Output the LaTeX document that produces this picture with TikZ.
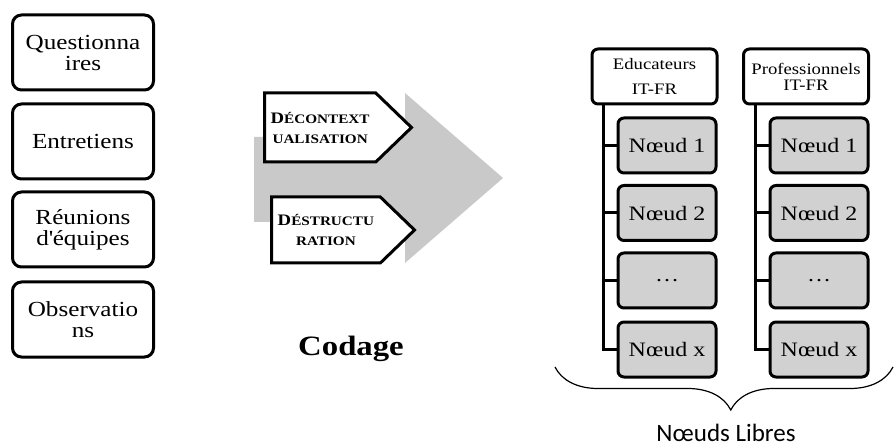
\documentclass[tikz,border=0pt]{standalone}
\usepackage{fontspec}
\setmainfont[FakeStretch=1.17]{Liberation Serif}
\newfontfamily\libresans{Carlito}
\usepackage{tikz}
\usetikzlibrary{shapes.symbols,decorations.pathreplacing}
\definecolor{boxgray}{rgb}{0.82,0.82,0.82}
\definecolor{arrowgray}{rgb}{0.79,0.79,0.79}
\newcommand{\capsline}[2]{{\fontsize{16}{20}\selectfont #1}{\fontsize{13}{20}\selectfont #2}}

\begin{document}
\begin{tikzpicture}[x=1pt,y=-1pt,
    srcbox/.style={draw,line width=3pt,rounded corners=9pt,minimum width=141pt,minimum height=75pt,align=center,font=\fontsize{21.5}{21}\selectfont},
    tagbox/.style={draw,fill=white,line width=3pt,signal,signal to=east,signal pointer angle=88,align=center,font=\bfseries\fontsize{13}{20}\selectfont,anchor=west},
    hdrbox/.style={draw,line width=3pt,rounded corners=6pt,minimum width=125pt,minimum height=55pt,align=center},
    nodebox/.style={draw,fill=boxgray,line width=3pt,rounded corners=6pt,minimum width=98pt,minimum height=55pt,font=\fontsize{20.5}{20}\selectfont},
    tree/.style={line width=3pt}]
            \useasboundingbox (0,0) rectangle (894,446);

            % sources
            \foreach \k/\y/\t in {1/52.5/Questionna\\ires, 2/141.5/Entretiens, 3/229.5/Réunions\\d\textquotesingle équipes, 4/319.5/Observatio\\ns}
              \node[srcbox] (src\k) at (83,\y) {\t};

            % codage
            \fill[arrowgray] (254,137) -- (405,137) -- (405,93) -- (503,178) -- (405,263) -- (405,222) -- (254,222) -- cycle;
            \node[tagbox,minimum width=147pt,minimum height=69pt] (decontext) at (263,127.5) {\capsline{D}{ÉCONTEXT}\\UALISATION};
            \node[tagbox,minimum width=143pt,minimum height=66pt] (destruct) at (270,230) {\capsline{D}{ÉSTRUCTU}\\RATION};
            \node[font=\bfseries\fontsize{28}{28}\selectfont] (codage) at (351,349) {Codage};

            % noeuds libres
            \node[hdrbox,font=\fontsize{16}{25}\selectfont] (hdrA) at (654.5,76.5) {Educateurs\\IT-FR};
            \node[hdrbox,font=\fontsize{16}{16}\selectfont] (hdrB) at (806,76.5) {Professionnels\\IT-FR};
            \foreach \k/\y/\t in {1/145.5/Nœud 1, 2/213/Nœud 2, 3/280.5/\ldots, 4/349.5/Nœud x} {
              \node[nodebox] (nA\k) at (667,\y) {\t};
              \node[nodebox] (nB\k) at (819,\y) {\t};
              \draw[tree] ([xshift=13pt]hdrA.south west) |- (nA\k.west);
              \draw[tree] ([xshift=13pt]hdrB.south west) |- (nB\k.west);
            }

            \coordinate (braceL) at (555,367);
            \coordinate (braceR) at (893,367);
            \draw[decorate,decoration={brace,mirror,amplitude=43pt,aspect=0.52},line width=1.2pt] (braceL) -- (braceR);
            \node[font=\libresans\fontsize{25}{25}\selectfont,anchor=base,inner sep=1pt] (libres) at (726,441) {Nœuds Libres};
\end{tikzpicture}
\end{document}
